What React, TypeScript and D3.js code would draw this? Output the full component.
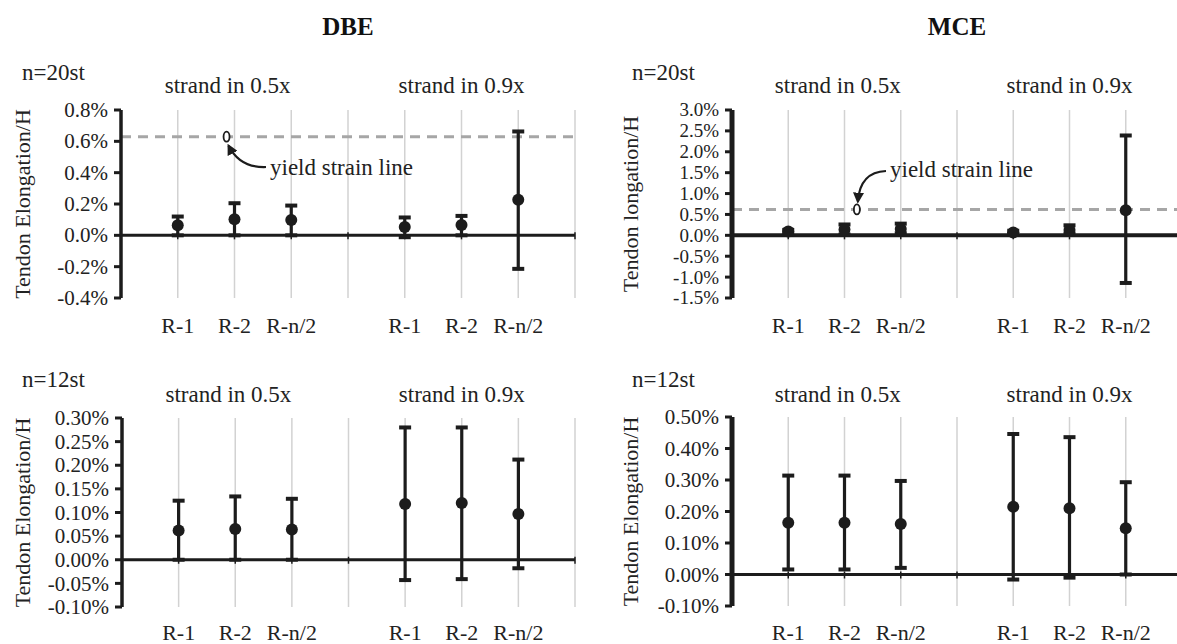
import React from "react";
import * as d3 from "d3";

// ---------- data ----------
const categories = ["R-1", "R-2", "R-n/2"];
const groupLabels = ["strand in 0.5x", "strand in 0.9x"];
const categoryIndex = [1, 2, 3, 5, 6, 7];

const dbe20Mean = [0.064, 0.103, 0.098, 0.053, 0.066, 0.227];
const dbe20Upper = [0.12, 0.205, 0.19, 0.114, 0.124, 0.663];
const dbe20Lower = [0.0, 0.0, 0.0, -0.012, 0.0, -0.214];
const dbe20Ticks = [-0.4, -0.2, 0.0, 0.2, 0.4, 0.6, 0.8];

const mce20Mean = [0.09, 0.14, 0.15, 0.07, 0.13, 0.6];
const mce20Upper = [0.13, 0.26, 0.28, 0.11, 0.24, 2.39];
const mce20Lower = [0.03, 0.02, 0.05, 0.03, 0.04, -1.14];
const mce20Ticks = [-1.5, -1.0, -0.5, 0.0, 0.5, 1.0, 1.5, 2.0, 2.5, 3.0];

const dbe12Mean = [0.062, 0.065, 0.064, 0.118, 0.12, 0.097];
const dbe12Upper = [0.125, 0.134, 0.129, 0.28, 0.28, 0.212];
const dbe12Lower = [0.0, 0.0, 0.0, -0.043, -0.041, -0.018];
const dbe12Ticks = [-0.1, -0.05, 0.0, 0.05, 0.1, 0.15, 0.2, 0.25, 0.3];

const mce12Mean = [0.164, 0.164, 0.16, 0.215, 0.21, 0.147];
const mce12Upper = [0.314, 0.314, 0.297, 0.446, 0.436, 0.293];
const mce12Lower = [0.016, 0.016, 0.021, -0.016, -0.01, 0.0];
const mce12Ticks = [-0.1, 0.0, 0.1, 0.2, 0.3, 0.4, 0.5];

const dbeYield = 0.63;
const mceYield = 0.62;

// ---------- styles ----------
const FONT = "'Liberation Serif', 'Times New Roman', serif";
const INK = "#1c1c1c";
const GRID = "#d2d2d2";
const DASH = "#a6a6a6";

function fmt(v: number, dec: number) {
  const s = Math.abs(v) < 1e-9 ? (0).toFixed(dec) : Math.abs(v).toFixed(dec);
  return (v < -1e-9 ? "-" : "") + s + "%";
}

type PanelProps = {
  xRange: [number, number];
  yDomain: [number, number];
  yRange: [number, number];
  ticks: number[];
  dec: number;
  tickFont: number;
  mean: number[];
  upper: number[];
  lower: number[];
  axisW: number;
  zeroW: number;
  yLabel: string;
  yLabelX: number;
  nLabel: string;
  nLabelX: number;
  nLabelY: number;
  groupY: number;
  xLabelY: number;
  yieldValue?: number;
  clipRight?: number;
};

function Panel(p: PanelProps) {
  const x = d3.scaleLinear().domain([0, 8]).range(p.xRange);
  const y = d3.scaleLinear().domain(p.yDomain).range(p.yRange);
  const x0 = x(0);
  const xEnd = Math.min(x(8), p.clipRight ?? 99999);
  const yTop = y(p.yDomain[1]);
  const yBot = y(p.yDomain[0]);
  const y0 = y(0);
  const gridIdx = d3.range(1, 9);
  const capW = 12;
  return (
    <g>
      {gridIdx.map((i) => (
        <line key={"g" + i} x1={x(i)} x2={x(i)} y1={yTop} y2={yBot} stroke={GRID} strokeWidth={1.5} />
      ))}
      {p.yieldValue !== undefined && (
        <line x1={x0} x2={xEnd} y1={y(p.yieldValue)} y2={y(p.yieldValue)} stroke={DASH} strokeWidth={3} strokeDasharray="10 7" />
      )}
      <line x1={x0} x2={xEnd} y1={y0} y2={y0} stroke={INK} strokeWidth={p.zeroW} />
      {gridIdx.map((i) => (
        <line key={"ct" + i} x1={x(i)} x2={x(i)} y1={y0 - 3} y2={y0 + 4} stroke={INK} strokeWidth={1.5} />
      ))}
      <line x1={x0} x2={x0} y1={yTop} y2={yBot} stroke={INK} strokeWidth={p.axisW} />
      {p.ticks.map((t) => (
        <g key={"t" + t}>
          <line x1={x0 - 7} x2={x0} y1={y(t)} y2={y(t)} stroke={INK} strokeWidth={3} />
          <text x={x0 - 13} y={y(t)} dy="0.34em" textAnchor="end" fontSize={p.tickFont} fontFamily={FONT} fill="#222">
            {fmt(t, p.dec)}
          </text>
        </g>
      ))}
      {p.mean.map((m, i) => {
        const cx = x(categoryIndex[i]);
        return (
          <g key={"e" + i}>
            <line x1={cx} x2={cx} y1={y(p.upper[i])} y2={y(p.lower[i])} stroke={INK} strokeWidth={3.2} />
            <line x1={cx - capW / 2} x2={cx + capW / 2} y1={y(p.upper[i])} y2={y(p.upper[i])} stroke={INK} strokeWidth={4} />
            <line x1={cx - capW / 2} x2={cx + capW / 2} y1={y(p.lower[i])} y2={y(p.lower[i])} stroke={INK} strokeWidth={4} />
            <circle cx={cx} cy={y(m)} r={6} fill={INK} />
          </g>
        );
      })}
      {categoryIndex.map((ci, i) => (
        <text key={"xl" + i} x={x(ci)} y={p.xLabelY} textAnchor="middle" fontSize={22} fontFamily={FONT} fill="#222">
          {categories[i % 3]}
        </text>
      ))}
      <text x={x(1.88)} y={p.groupY} textAnchor="middle" fontSize={23} fontFamily={FONT} fill="#222">
        {groupLabels[0]}
      </text>
      <text x={x(6)} y={p.groupY} textAnchor="middle" fontSize={23} fontFamily={FONT} fill="#222">
        {groupLabels[1]}
      </text>
      <text x={p.nLabelX} y={p.nLabelY} fontSize={23} fontFamily={FONT} fill="#222">
        {p.nLabel}
      </text>
      <text
        transform={`translate(${p.yLabelX},${(yTop + yBot) / 2}) rotate(-90)`}
        textAnchor="middle"
        fontSize={22}
        fontFamily={FONT}
        fill="#222"
      >
        {p.yLabel}
      </text>
    </g>
  );
}

export default function App() {
  const dbeX = [121, 575] as [number, number];
  const mceX = [732, 1182] as [number, number];
  const xd = d3.scaleLinear().domain([0, 8]).range(dbeX);
  const yd = d3.scaleLinear().domain([-0.4, 0.8]).range([298, 110]);
  const xm = d3.scaleLinear().domain([0, 8]).range(mceX);
  const ym = d3.scaleLinear().domain([-1.5, 3.0]).range([298, 110]);
  return (
    <svg width={1177} height={644} style={{ position: "absolute", left: 0, top: 0, background: "#fff" }}>
      <defs>
        <marker id="ah" viewBox="0 0 10 10" refX="8" refY="5" markerWidth="5" markerHeight="5" orient="auto">
          <path d="M0,0 L10,5 L0,10 z" fill={INK} />
        </marker>
      </defs>
      <rect width={1177} height={644} fill="#fff" />
      <text x={(xd(0) + xd(8)) / 2} y={35} textAnchor="middle" fontSize={25} fontWeight="bold" fontFamily={FONT} fill="#111">
        DBE
      </text>
      <text x={(xm(0) + xm(8)) / 2} y={35} textAnchor="middle" fontSize={25} fontWeight="bold" fontFamily={FONT} fill="#111">
        MCE
      </text>

      <Panel
        xRange={dbeX}
        yDomain={[-0.4, 0.8]}
        yRange={[298, 110]}
        ticks={dbe20Ticks}
        dec={1}
        tickFont={21}
        mean={dbe20Mean}
        upper={dbe20Upper}
        lower={dbe20Lower}
        axisW={3.5}
        zeroW={3}
        yLabel="Tendon  Elongation/H"
        yLabelX={30}
        nLabel="n=20st"
        nLabelX={22}
        nLabelY={80}
        groupY={93}
        xLabelY={333}
        yieldValue={dbeYield}
      />
      <Panel
        xRange={mceX}
        yDomain={[-1.5, 3.0]}
        yRange={[298, 110]}
        ticks={mce20Ticks}
        dec={1}
        tickFont={19}
        mean={mce20Mean}
        upper={mce20Upper}
        lower={mce20Lower}
        axisW={5}
        zeroW={4}
        yLabel="Tendon  longation/H"
        yLabelX={638}
        nLabel="n=20st"
        nLabelX={632}
        nLabelY={80}
        groupY={93}
        xLabelY={333}
        yieldValue={mceYield}
        clipRight={1177}
      />
      <Panel
        xRange={[122, 575]}
        yDomain={[-0.1, 0.3]}
        yRange={[607, 418]}
        ticks={dbe12Ticks}
        dec={2}
        tickFont={21}
        mean={dbe12Mean}
        upper={dbe12Upper}
        lower={dbe12Lower}
        axisW={3.5}
        zeroW={3}
        yLabel="Tendon Elongation/H"
        yLabelX={30}
        nLabel="n=12st"
        nLabelX={22}
        nLabelY={387}
        groupY={402}
        xLabelY={640}
      />
      <Panel
        xRange={mceX}
        yDomain={[-0.1, 0.5]}
        yRange={[606, 417]}
        ticks={mce12Ticks}
        dec={2}
        tickFont={21}
        mean={mce12Mean}
        upper={mce12Upper}
        lower={mce12Lower}
        axisW={5}
        zeroW={3}
        yLabel="Tendon Elongation/H"
        yLabelX={638}
        nLabel="n=12st"
        nLabelX={632}
        nLabelY={387}
        groupY={402}
        xLabelY={640}
        clipRight={1177}
      />

      <ellipse cx={xd(1.86)} cy={yd(dbeYield)} rx={3} ry={5} fill="#fff" stroke={INK} strokeWidth={1.8} />
      <path d={`M 266 167 Q 240 168 ${xd(1.86) + 2} ${yd(dbeYield) + 9}`} fill="none" stroke={INK} strokeWidth={2.2} markerEnd="url(#ah)" />
      <text x={270} y={175} fontSize={23} fontFamily={FONT} fill="#222">yield strain line</text>

      <ellipse cx={xm(2.22)} cy={ym(mceYield)} rx={3} ry={5} fill="#fff" stroke={INK} strokeWidth={1.8} />
      <path d={`M 886 171 Q 860 172 ${xm(2.22) + 1} ${ym(mceYield) - 8}`} fill="none" stroke={INK} strokeWidth={2.2} markerEnd="url(#ah)" />
      <text x={890} y={177} fontSize={23} fontFamily={FONT} fill="#222">yield strain line</text>
    </svg>
  );
}
